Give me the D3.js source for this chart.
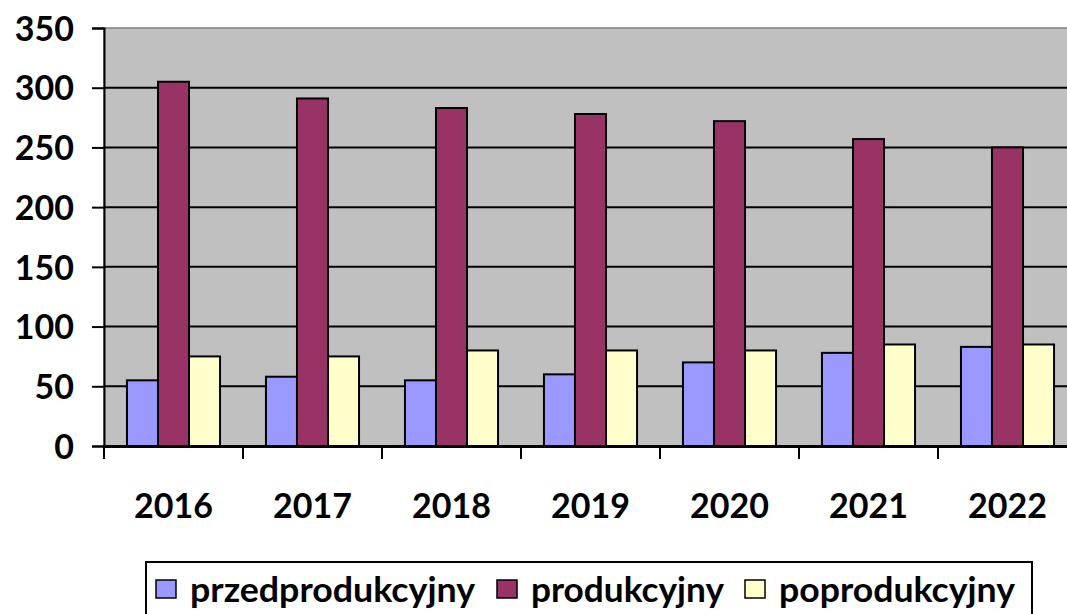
<html>
<head>
<meta charset='UTF-8'>
<script src="https://d3js.org/d3.v7.min.js"></script>
<style>
  body { margin: 0; background: white; }
  text { font-family: Lato, "Liberation Sans", sans-serif; font-weight: bold; fill: black; }
</style>
</head>
<body>
<svg id="chart" width="1067" height="614"></svg>
<script>
// data
const years = ['2016', '2017', '2018', '2019', '2020', '2021', '2022'];
const seriesNames = ['przedprodukcyjny', 'produkcyjny', 'poprodukcyjny'];
const przed = [55, 58, 55, 60, 70, 78, 83];
const prod = [305, 291, 283, 278, 272, 257, 250];
const popr = [75, 75, 80, 80, 80, 85, 85];
const colors = ['#9999FF', '#993366', '#FFFFCC'];
const yTicks = [0, 50, 100, 150, 200, 250, 300, 350];

const svg = d3.select('#chart');
const plotLeft = 104, plotTop = 28, plotBottom = 446, plotRight = 1077;

const x = d3.scaleBand().domain(years).range([plotLeft, plotRight]).paddingInner(0).paddingOuter(0);
const y = d3.scaleLinear().domain([0, 350]).range([plotBottom, plotTop]);
const inner = d3.scaleBand().domain(seriesNames).range([0, x.bandwidth()]).paddingInner(0).paddingOuter(0.74);

// plot background
svg.append('rect')
   .attr('x', plotLeft).attr('y', plotTop)
   .attr('width', plotRight - plotLeft).attr('height', plotBottom - plotTop)
   .attr('fill', '#C0C0C0')
   .attr('stroke', '#808080').attr('stroke-width', 1.5);

// gridlines
svg.append('g').selectAll('line').data(yTicks.filter(d => d > 0 && d < 350))
   .join('line')
   .attr('x1', plotLeft).attr('x2', plotRight)
   .attr('y1', d => y(d)).attr('y2', d => y(d))
   .attr('stroke', 'black').attr('stroke-width', 2);

// bars
const rows = years.map((yr, i) => ({ year: yr, vals: [przed[i], prod[i], popr[i]] }));
const groups = svg.append('g').selectAll('g').data(rows).join('g')
   .attr('transform', d => 'translate(' + x(d.year) + ',0)');
groups.selectAll('rect').data(d => d.vals.map((v, j) => ({ name: seriesNames[j], v: v, c: colors[j] })))
   .join('rect')
   .attr('x', d => inner(d.name))
   .attr('width', inner.bandwidth())
   .attr('y', d => y(d.v))
   .attr('height', d => plotBottom - y(d.v))
   .attr('fill', d => d.c)
   .attr('stroke', 'black').attr('stroke-width', 2);

// y axis
const yAxis = svg.append('g')
   .attr('transform', 'translate(' + plotLeft + ',0)')
   .call(d3.axisLeft(y).tickValues(yTicks).tickSize(12).tickPadding(18));
yAxis.select('.domain').attr('stroke', 'black').attr('stroke-width', 2);
yAxis.selectAll('.tick line').attr('stroke', 'black').attr('stroke-width', 2);
yAxis.selectAll('text').style('font-size', '34px').attr('dy', '0.36em');

// x axis
const xAxis = svg.append('g')
   .attr('transform', 'translate(0,' + plotBottom + ')')
   .call(d3.axisBottom(x).tickSize(0).tickPadding(48));
xAxis.select('.domain').attr('stroke', 'black').attr('stroke-width', 3);
xAxis.selectAll('text').style('font-size', '34px');
xAxis.selectAll('line.sep').data(years).join('line')
   .attr('class', 'sep')
   .attr('x1', d => x(d)).attr('x2', d => x(d))
   .attr('y1', 0).attr('y2', 13)
   .attr('stroke', 'black').attr('stroke-width', 2);

// legend
const legend = svg.append('g');
legend.append('rect')
   .attr('x', 146).attr('y', 562).attr('width', 886).attr('height', 70)
   .attr('fill', 'white').attr('stroke', 'black').attr('stroke-width', 2);
const legendX = [156, 497, 745];
const legendW = [285, 193, 236];
seriesNames.forEach((n, i) => {
  legend.append('rect')
     .attr('x', legendX[i]).attr('y', 580).attr('width', 20).attr('height', 18)
     .attr('fill', colors[i]).attr('stroke', 'black').attr('stroke-width', 1.5);
  legend.append('text')
     .attr('x', legendX[i] + 34).attr('y', 602)
     .attr('textLength', legendW[i]).attr('lengthAdjust', 'spacingAndGlyphs')
     .style('font-size', '35px')
     .text(n);
});
</script>
</body>
</html>
